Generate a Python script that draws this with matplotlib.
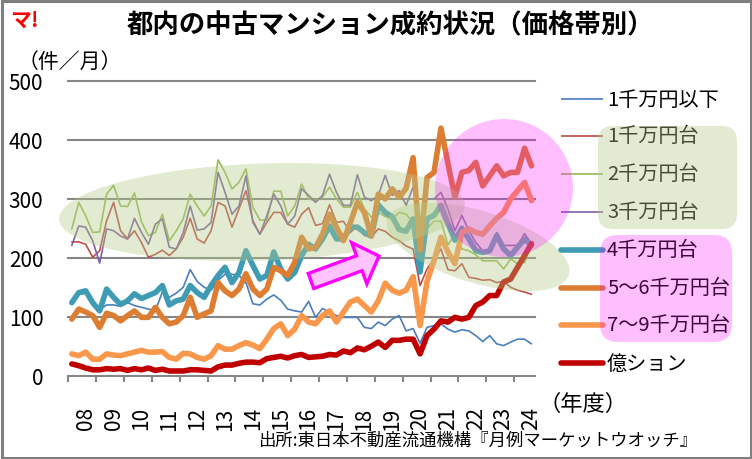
import matplotlib
matplotlib.use('Agg')
import matplotlib.pyplot as plt
from matplotlib.patches import Ellipse, Circle, FancyBboxPatch, FancyArrow, Rectangle
import numpy as np

plt.rcParams['font.family'] = ['Noto Sans CJK JP', 'DejaVu Sans']

# ---- data (quarterly, FY2008 Q1 .. FY2024 Q3), units: 件／月 ----
years = ['08', '09', '10', '11', '12', '13', '14', '15', '16', '17', '18',
         '19', '20', '21', '22', '23', '24']
series_names = ['1千万円以下', '1千万円台', '2千万円台', '3千万円台',
                '4千万円台', '5～6千万円台', '7～9千万円台', '億ション']

under_10m = [128, 138, 140, 120, 112, 120, 120, 118, 124, 119, 116, 113,
             110, 142, 133, 140, 150, 180, 160, 150, 145, 162, 172, 172,
             170, 158, 122, 120, 130, 137, 128, 113, 110, 108, 126, 99,
             114, 108, 102, 99, 99, 99, 82, 80, 91, 85, 96, 102,
             76, 80, 55, 82, 85, 88, 79, 74, 78, 76, 68, 58,
             68, 54, 51, 57, 62, 62, 54]
band_10m = [227, 227, 223, 201, 212, 263, 294, 246, 232, 246, 226, 201,
            206, 213, 204, 215, 235, 267, 232, 225, 246, 294, 288, 252,
            283, 314, 263, 240, 260, 277, 277, 257, 252, 274, 285, 255,
            258, 290, 260, 262, 243, 255, 238, 235, 249, 245, 235, 229,
            220, 215, 153, 181, 198, 215, 180, 178, 190, 167, 165, 162,
            163, 158, 160, 150, 145, 142, 138]
band_20m = [249, 294, 271, 243, 244, 308, 323, 288, 287, 310, 261, 238,
            243, 274, 229, 246, 266, 308, 288, 271, 288, 366, 345, 317,
            328, 351, 286, 264, 264, 313, 313, 271, 288, 325, 300, 297,
            303, 320, 300, 286, 286, 311, 283, 269, 277, 270, 266, 277,
            274, 260, 210, 250, 262, 262, 222, 240, 215, 212, 205, 195,
            195, 195, 181, 198, 190, 192, 224]
band_30m = [221, 254, 252, 229, 191, 249, 246, 237, 232, 267, 243, 223,
            257, 266, 218, 215, 243, 288, 247, 249, 260, 345, 311, 274,
            288, 339, 260, 240, 271, 308, 288, 257, 271, 317, 306, 294,
            306, 342, 311, 289, 289, 341, 303, 297, 306, 340, 306, 314,
            289, 320, 255, 300, 300, 311, 283, 246, 272, 246, 226, 212,
            212, 243, 221, 221, 221, 241, 224]
band_40m = [124, 141, 144, 124, 110, 147, 133, 121, 127, 139, 131, 136,
            141, 153, 120, 127, 130, 153, 141, 133, 153, 170, 184, 158,
            175, 212, 187, 164, 170, 210, 181, 164, 175, 204, 223, 215,
            232, 254, 232, 232, 252, 252, 243, 237, 290, 277, 270, 248,
            245, 266, 176, 266, 272, 289, 258, 230, 250, 232, 212, 209,
            212, 238, 215, 204, 218, 232, 221]
band_50_60m = [96, 113, 108, 102, 82, 106, 102, 93, 102, 110, 99, 99,
               116, 99, 88, 91, 102, 133, 99, 105, 110, 158, 144, 136,
               147, 173, 147, 136, 147, 184, 178, 170, 192, 235, 215, 218,
               240, 274, 252, 229, 260, 294, 277, 237, 308, 300, 317, 303,
               318, 370, 213, 336, 345, 420, 360, 303, 345, 348, 362, 322,
               339, 356, 339, 345, 345, 386, 356]
band_70_90m = [37, 34, 40, 28, 28, 37, 35, 34, 37, 40, 43, 40,
               40, 41, 31, 28, 38, 37, 31, 28, 34, 51, 45, 45,
               51, 56, 52, 46, 62, 80, 88, 68, 79, 102, 91, 88,
               102, 110, 91, 108, 125, 130, 119, 108, 127, 157, 145, 140,
               145, 168, 85, 160, 195, 235, 210, 190, 243, 249, 243, 240,
               254, 267, 277, 300, 314, 328, 297]
oku = [20, 17, 13, 10, 10, 12, 11, 12, 9, 12, 10, 13,
       9, 11, 8, 8, 8, 10, 10, 9, 8, 15, 18, 18,
       21, 23, 23, 22, 29, 31, 33, 30, 34, 36, 31, 32,
       33, 36, 35, 42, 39, 47, 44, 50, 57, 48, 60, 60,
       62, 62, 37, 68, 79, 93, 91, 99, 96, 99, 119, 125,
       136, 136, 159, 164, 184, 204, 224]
y_ticks = [0, 100, 200, 300, 400, 500]

series = [under_10m, band_10m, band_20m, band_30m,
          band_40m, band_50_60m, band_70_90m, oku]
colors = ['#4A7EBB', '#BE4B48', '#98B954', '#7D5FA0',
          '#3E9BB4', '#DC7D32', '#F9974A', '#C00000']
widths = [1.2, 1.2, 1.2, 1.2, 4.0, 4.0, 4.0, 4.0]

W, H = 752, 460
fig = plt.figure(figsize=(W / 100, H / 100), dpi=100)
fig.patch.set_facecolor('white')


def px_rect(x0, y0, x1, y1):
    return [x0 / W, 1 - y1 / H, (x1 - x0) / W, (y1 - y0) / H]


ax = fig.add_axes(px_rect(68.3, 82, 535, 376.7))
n = len(under_10m)
x = np.arange(n)
grid_c = '#868686'
for v in y_ticks[1:]:
    ax.axhline(v, color=grid_c, lw=1.5, zorder=0, clip_on=False)
for vals, c, lw in zip(series, colors, widths):
    ax.plot(x, vals, color=c, lw=lw, solid_joinstyle='round',
            solid_capstyle='round', zorder=2)

ax.set_xlim(-0.5, n - 0.5)
ax.set_ylim(0, 500)
for s in ['left', 'right', 'top']:
    ax.spines[s].set_visible(False)
ax.spines['bottom'].set_color(grid_c)
ax.spines['bottom'].set_linewidth(1.5)
ax.set_yticks(y_ticks)
ax.set_yticklabels([str(v) for v in y_ticks], fontsize=15)
ax.tick_params(axis='y', length=0, pad=18)
ax.set_xticks(np.arange(-0.5, n - 1, 4))
ax.set_xticklabels([])
ax.tick_params(axis='x', which='major', length=4.5, width=1.5,
               color=grid_c, direction='out')
ax.set_xticks(np.arange(2, n, 4), minor=True)
ax.set_xticklabels(years, minor=True, rotation=90, fontsize=15)
ax.tick_params(axis='x', which='minor', length=0, pad=22)
ax.set_facecolor('none')

# ---- overlay in pixel coordinates ----
ov = fig.add_axes([0, 0, 1, 1], zorder=5)
ov.set_xlim(0, W)
ov.set_ylim(H, 0)
ov.axis('off')
ov.patch.set_alpha(0)

# legend
rows = [100, 137, 175, 213, 251, 289, 326, 364]
for name, c, lw, yy in zip(series_names, colors, widths, rows):
    ov.plot([561, 603], [yy, yy], color=c, lw=lw,
            solid_capstyle='round' if lw > 2 else 'butt')
    ov.text(607, yy, name, fontsize=14.5, va='center', ha='left')

# shapes
green = '#B5CC8A'
ov.add_patch(Ellipse((262, 213), 406, 97, angle=-2, fc=green, ec='none',
                     alpha=0.38, zorder=3))
ov.add_patch(Ellipse((478, 248), 190, 72, angle=17, fc=green, ec='none',
                     alpha=0.38, zorder=3))
ov.add_patch(Circle((504, 189), 69, fc='#FF00FF', ec='none', alpha=0.25,
                    zorder=4))
ov.add_patch(FancyBboxPatch((598, 127), 139, 103,
                            boxstyle='round,pad=0,rounding_size=15',
                            fc=green, ec='none', alpha=0.38, zorder=3))
ov.add_patch(FancyBboxPatch((600, 236), 132, 107,
                            boxstyle='round,pad=0,rounding_size=18',
                            fc='#FF00FF', ec='none', alpha=0.25, zorder=4))
ov.add_patch(FancyArrow(311, 282, 68, -25, width=16, head_width=44,
                        head_length=21, length_includes_head=True,
                        fc='#FFC4FF', ec='#FF00FF', lw=2.4, zorder=6))

# texts
ov.text(390, 26, '都内の中古マンション成約状況（価格帯別）', fontsize=19,
        fontweight='bold', ha='center', va='center')
ov.text(10, 20, 'マ!', fontsize=15, fontweight='bold', color='#FF0000',
        ha='left', va='center', style='italic')
ov.text(18, 62, '（件／月）', fontsize=15, ha='left', va='center')
ov.text(538, 404, '（年度）', fontsize=16, ha='left', va='center')
ov.text(258, 441, '出所:東日本不動産流通機構『月例マーケットウオッチ』',
        fontsize=12.5, ha='left', va='center')

# frame
ov.add_patch(Rectangle((1.5, 1.5), W - 3, H - 3, fill=False,
                       ec='#7F7F7F', lw=2.2, zorder=10))

fig.savefig('out.png', dpi=100)
